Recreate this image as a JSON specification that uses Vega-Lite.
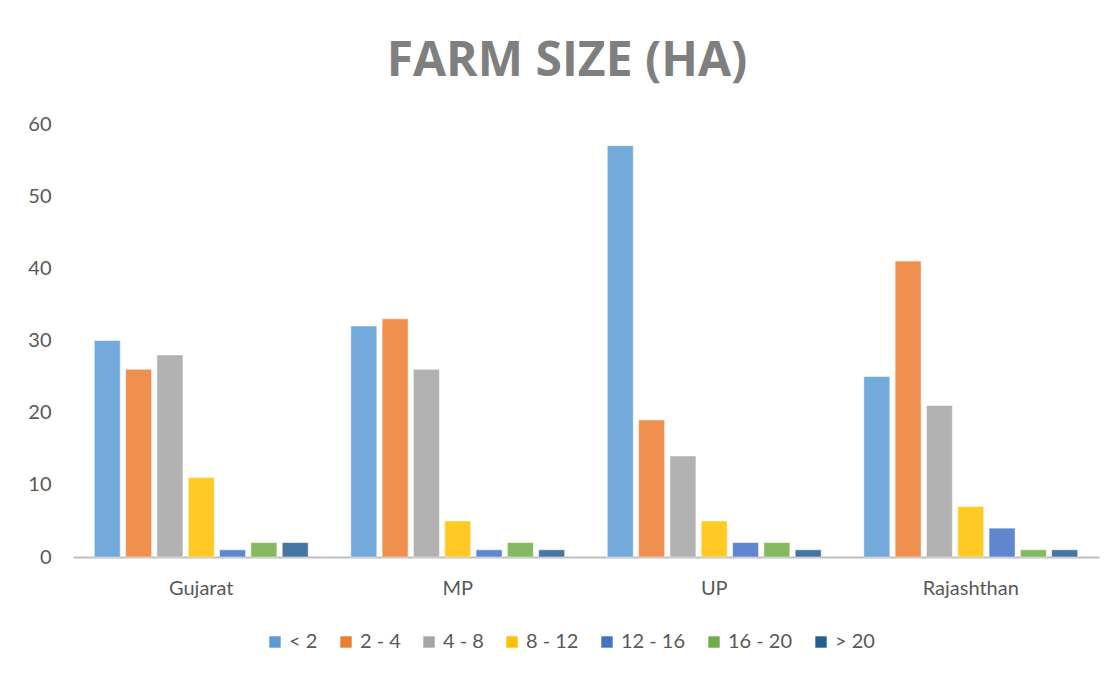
{
  "$schema": "https://vega.github.io/schema/vega-lite/v6.json",
  "autosize": "none",
  "width": 1026,
  "height": 433,
  "padding": {"left": 73, "top": 124, "right": 14, "bottom": 117},
  "background": "white",
  "title": {
    "text": "FARM SIZE (HA)",
    "font": "Open Sans",
    "fontSize": 48,
    "fontWeight": "bold",
    "color": "#7F7F7F",
    "anchor": "middle",
    "dx": -19,
    "offset": 28
  },
  "data": {
    "values": [
      {"state": "Gujarat", "size": "< 2", "value": 30},
      {"state": "Gujarat", "size": "2 - 4", "value": 26},
      {"state": "Gujarat", "size": "4 - 8", "value": 28},
      {"state": "Gujarat", "size": "8 - 12", "value": 11},
      {"state": "Gujarat", "size": "12 - 16", "value": 1},
      {"state": "Gujarat", "size": "16 - 20", "value": 2},
      {"state": "Gujarat", "size": "> 20", "value": 2},
      {"state": "MP", "size": "< 2", "value": 32},
      {"state": "MP", "size": "2 - 4", "value": 33},
      {"state": "MP", "size": "4 - 8", "value": 26},
      {"state": "MP", "size": "8 - 12", "value": 5},
      {"state": "MP", "size": "12 - 16", "value": 1},
      {"state": "MP", "size": "16 - 20", "value": 2},
      {"state": "MP", "size": "> 20", "value": 1},
      {"state": "UP", "size": "< 2", "value": 57},
      {"state": "UP", "size": "2 - 4", "value": 19},
      {"state": "UP", "size": "4 - 8", "value": 14},
      {"state": "UP", "size": "8 - 12", "value": 5},
      {"state": "UP", "size": "12 - 16", "value": 2},
      {"state": "UP", "size": "16 - 20", "value": 2},
      {"state": "UP", "size": "> 20", "value": 1},
      {"state": "Rajashthan", "size": "< 2", "value": 25},
      {"state": "Rajashthan", "size": "2 - 4", "value": 41},
      {"state": "Rajashthan", "size": "4 - 8", "value": 21},
      {"state": "Rajashthan", "size": "8 - 12", "value": 7},
      {"state": "Rajashthan", "size": "12 - 16", "value": 4},
      {"state": "Rajashthan", "size": "16 - 20", "value": 1},
      {"state": "Rajashthan", "size": "> 20", "value": 1}
    ]
  },
  "mark": {"type": "bar", "fillOpacity": 0.85, "stroke": "white", "strokeOpacity": 0.5, "strokeWidth": 1},
  "encoding": {
    "x": {
      "field": "state",
      "type": "nominal",
      "sort": ["Gujarat", "MP", "UP", "Rajashthan"],
      "scale": {"paddingInner": 0, "paddingOuter": 0},
      "axis": {
        "title": null,
        "labelAngle": 0,
        "ticks": false,
        "domainColor": "#BFBFBF",
        "domainWidth": 2,
        "labelFont": "Lato",
        "labelFontSize": 20,
        "labelColor": "#595959",
        "labelPadding": 21
      }
    },
    "xOffset": {
      "field": "size",
      "type": "nominal",
      "scale": {
        "domain": ["< 2", "2 - 4", "4 - 8", "8 - 12", "12 - 16", "16 - 20", "> 20"],
        "paddingInner": 0.17,
        "paddingOuter": 0.68
      }
    },
    "y": {
      "field": "value",
      "type": "quantitative",
      "scale": {"domain": [0, 60]},
      "axis": {
        "title": null,
        "values": [0, 10, 20, 30, 40, 50, 60],
        "grid": false,
        "domain": false,
        "ticks": false,
        "labelFont": "Lato",
        "labelFontSize": 20,
        "labelColor": "#595959",
        "labelPadding": 22
      }
    },
    "color": {
      "field": "size",
      "type": "nominal",
      "scale": {
        "domain": ["< 2", "2 - 4", "4 - 8", "8 - 12", "12 - 16", "16 - 20", "> 20"],
        "range": ["#5B9BD5", "#ED7D31", "#A5A5A5", "#FFC000", "#4472C4", "#70AD47", "#255E91"]
      },
      "legend": {
        "title": null,
        "orient": "none",
        "legendX": 192,
        "legendY": 508,
        "direction": "horizontal",
        "symbolType": "square",
        "symbolSize": 130,
        "symbolStrokeWidth": 0,
        "labelFont": "Lato",
        "labelFontSize": 20,
        "labelColor": "#595959",
        "labelOffset": 4,
        "columnPadding": 18
      }
    }
  },
  "config": {"view": {"stroke": null}}
}
